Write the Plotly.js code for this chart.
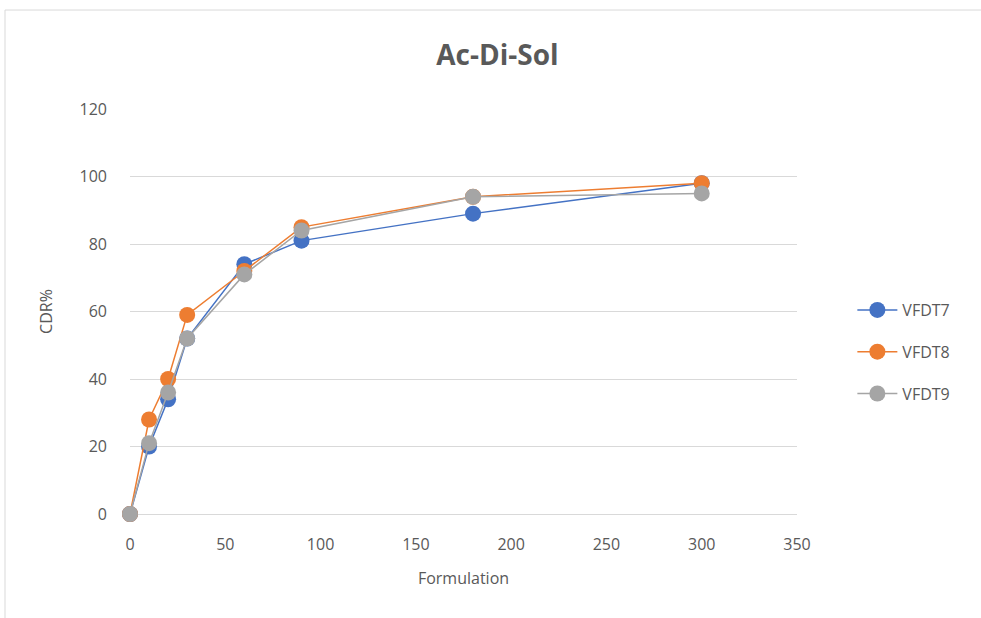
<!DOCTYPE html>
<html>
<head>
<meta charset="utf-8">
<script src="https://cdn.plot.ly/plotly-3.0.1.min.js"></script>
<style>html,body{margin:0;padding:0;background:#fff;}#chart{width:981px;height:618px;}</style>
</head>
<body>
<div id="chart"></div>
<script>
const xValues = [0, 10, 20, 30, 60, 90, 180, 300];
const vfdt7 = [0, 20, 34, 52, 74, 81, 89, 98];
const vfdt8 = [0, 28, 40, 59, 72, 85, 94, 98];
const vfdt9 = [0, 21, 36, 52, 71, 84, 94, 95];
const seriesNames = ['VFDT7', 'VFDT8', 'VFDT9'];
const seriesColors = ['#4472C4', '#ED7D31', '#A5A5A5'];
const allSeries = [vfdt7, vfdt8, vfdt9];

const traces = allSeries.map((ys, i) => ({
  x: xValues, y: ys, name: seriesNames[i], legendgroup: 'g' + i,
  type: 'scatter', mode: 'lines+markers',
  line: {color: seriesColors[i], width: 1.5},
  marker: {color: seriesColors[i], size: 16},
  cliponaxis: false
}));

const layout = {
  width: 981, height: 618,
  margin: {l: 130, r: 184, t: 109, b: 104},
  paper_bgcolor: '#ffffff', plot_bgcolor: '#ffffff',
  font: {family: 'Open Sans, Liberation Sans, sans-serif', color: '#595959', size: 16},
  title: {text: '<b>Ac-Di-Sol</b>', font: {size: 28, color: '#595959'}, x: 0.507, xanchor: 'center', y: 0.91, yanchor: 'middle'},
  xaxis: {
    range: [0, 350], dtick: 50, tick0: 0, showgrid: false, zeroline: false, showline: false,
    ticks: '', ticklabelstandoff: 19, tickfont: {size: 16, color: '#595959'},
    title: {text: 'Formulation', font: {size: 16, color: '#595959'}, standoff: 18}
  },
  yaxis: {
    range: [0, 120], dtick: 20, tick0: 0, showgrid: true, gridcolor: '#d9d9d9', gridwidth: 1,
    zeroline: true, zerolinecolor: '#d9d9d9', zerolinewidth: 1, showline: false,
    ticks: '', ticklabelstandoff: 22, tickfont: {size: 16, color: '#595959'},
    title: {text: 'CDR%', font: {size: 16, color: '#595959'}, standoff: 22}
  },
  legend: {x: 1.083, xanchor: 'left', y: 0.40, yanchor: 'middle', font: {size: 16, color: '#595959'},
    traceorder: 'grouped', tracegroupgap: 18, itemwidth: 40, bgcolor: 'rgba(0,0,0,0)'},
  shapes: [{type: 'rect', xref: 'paper', yref: 'paper', x0: -0.1874, x1: 1.31, y0: -0.3, y1: 1.2444,
    line: {color: '#d9d9d9', width: 1}, fillcolor: 'rgba(0,0,0,0)', layer: 'below'}],
  showlegend: true
};

Plotly.newPlot('chart', traces, layout, {displayModeBar: false, staticPlot: true});
</script>
</body>
</html>
